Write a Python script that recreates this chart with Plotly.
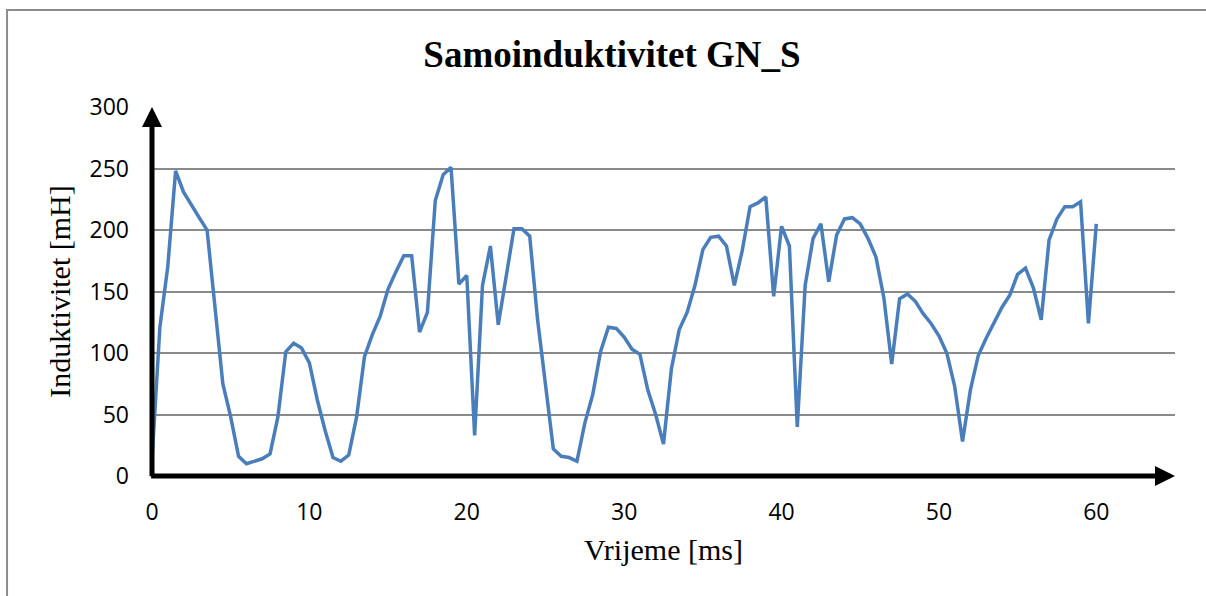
import plotly.graph_objects as go

# Sample times [ms]
time_ms = [
    0.0, 0.5, 1.0, 1.5, 2.0, 2.5, 3.0, 3.5, 4.0, 4.5,
    5.0, 5.5, 6.0, 6.5, 7.0, 7.5, 8.0, 8.5, 9.0, 9.5,
    10.0, 10.5, 11.0, 11.5, 12.0, 12.5, 13.0, 13.5, 14.0, 14.5,
    15.0, 15.5, 16.0, 16.5, 17.0, 17.5, 18.0, 18.5, 19.0, 19.5,
    20.0, 20.5, 21.0, 21.5, 22.0, 22.5, 23.0, 23.5, 24.0, 24.5,
    25.0, 25.5, 26.0, 26.5, 27.0, 27.5, 28.0, 28.5, 29.0, 29.5,
    30.0, 30.5, 31.0, 31.5, 32.0, 32.5, 33.0, 33.5, 34.0, 34.5,
    35.0, 35.5, 36.0, 36.5, 37.0, 37.5, 38.0, 38.5, 39.0, 39.5,
    40.0, 40.5, 41.0, 41.5, 42.0, 42.5, 43.0, 43.5, 44.0, 44.5,
    45.0, 45.5, 46.0, 46.5, 47.0, 47.5, 48.0, 48.5, 49.0, 49.5,
    50.0, 50.5, 51.0, 51.5, 52.0, 52.5, 53.0, 53.5, 54.0, 54.5,
    55.0, 55.5, 56.0, 56.5, 57.0, 57.5, 58.0, 58.5, 59.0, 59.5,
    60.0,
]

# Self-inductance [mH]
inductance_mh = [
    13, 121, 170, 248, 231, 220, 210, 200, 137, 75,
    48, 16, 10, 12, 14, 18, 48, 101, 108, 104,
    92, 62, 37, 15, 12, 17, 48, 97, 115, 130,
    152, 166, 179, 179, 117, 133, 224, 245, 251, 156,
    163, 33, 155, 187, 123, 162, 201, 201, 195, 127,
    75, 22, 16, 15, 12, 43, 66, 101, 121, 120,
    113, 103, 99, 70, 50, 26, 87, 119, 133, 155,
    184, 194, 195, 187, 155, 183, 219, 222, 227, 146,
    203, 187, 40, 155, 193, 205, 158, 196, 209, 210,
    205, 193, 178, 145, 91, 144, 148, 142, 132, 124,
    114, 100, 73, 28, 70, 98, 112, 125, 137, 147,
    164, 169, 153, 127, 192, 209, 219, 219, 223, 124,
    205,
]

x_ticks = [0, 10, 20, 30, 40, 50, 60]
y_ticks = [0, 50, 100, 150, 200, 250, 300]
x_max = 65
y_max = 300

SERIF = "Liberation Serif, Times New Roman, serif"
SANS = "Open Sans, Liberation Sans, sans-serif"

fig = go.Figure()
fig.add_trace(go.Scatter(
    x=time_ms, y=inductance_mh, mode="lines",
    line=dict(color="#4a7ebb", width=3.5),
    showlegend=False, hoverinfo="x+y",
))

# Axis lines with arrowheads
arrow_common = dict(text="", showarrow=True, arrowhead=2, arrowsize=0.8,
                    arrowwidth=5, arrowcolor="black", standoff=0,
                    startstandoff=0, xref="x", yref="y", axref="x", ayref="y")
fig.add_annotation(x=x_max, y=0, ax=-0.15, ay=0, **arrow_common)
fig.add_annotation(x=0, y=y_max, ax=0, ay=-1.5, **arrow_common)

# Outer chart frame (left and top edges)
fig.add_shape(type="path", xref="paper", yref="paper",
              path="M -0.1417 -0.4 L -0.1417 1.2629 L 1.05 1.2629",
              line=dict(color="#8c8c8c", width=2))

fig.update_layout(
    width=1206, height=596,
    margin=dict(l=152, r=31, t=107, b=120),
    paper_bgcolor="white", plot_bgcolor="white",
    title=dict(text="<b>Samoinduktivitet GN_S</b>",
               font=dict(family=SERIF, size=37, color="black"),
               x=612 / 1206, xanchor="center", xref="container",
               y=1 - 54 / 596, yanchor="middle", yref="container"),
    xaxis=dict(range=[0, x_max], tickvals=x_ticks,
               ticktext=[str(v) for v in x_ticks],
               showgrid=False, zeroline=False, showline=False, ticks="",
               ticklabelstandoff=20,
               tickfont=dict(family=SANS, size=23, color="black"),
               title=dict(text="Vrijeme [ms]", standoff=12,
                          font=dict(family=SERIF, size=30, color="black"))),
    yaxis=dict(range=[0, y_max], tickvals=y_ticks,
               ticktext=[str(v) for v in y_ticks],
               showgrid=True, gridcolor="#8a8a8a", gridwidth=1.6,
               zeroline=False, showline=False, ticks="",
               ticklabelstandoff=22,
               tickfont=dict(family=SANS, size=23, color="black"),
               title=dict(text="Induktivitet [mH]", standoff=10,
                          font=dict(family=SERIF, size=30, color="black"))),
)

fig.write_html("out.html")
